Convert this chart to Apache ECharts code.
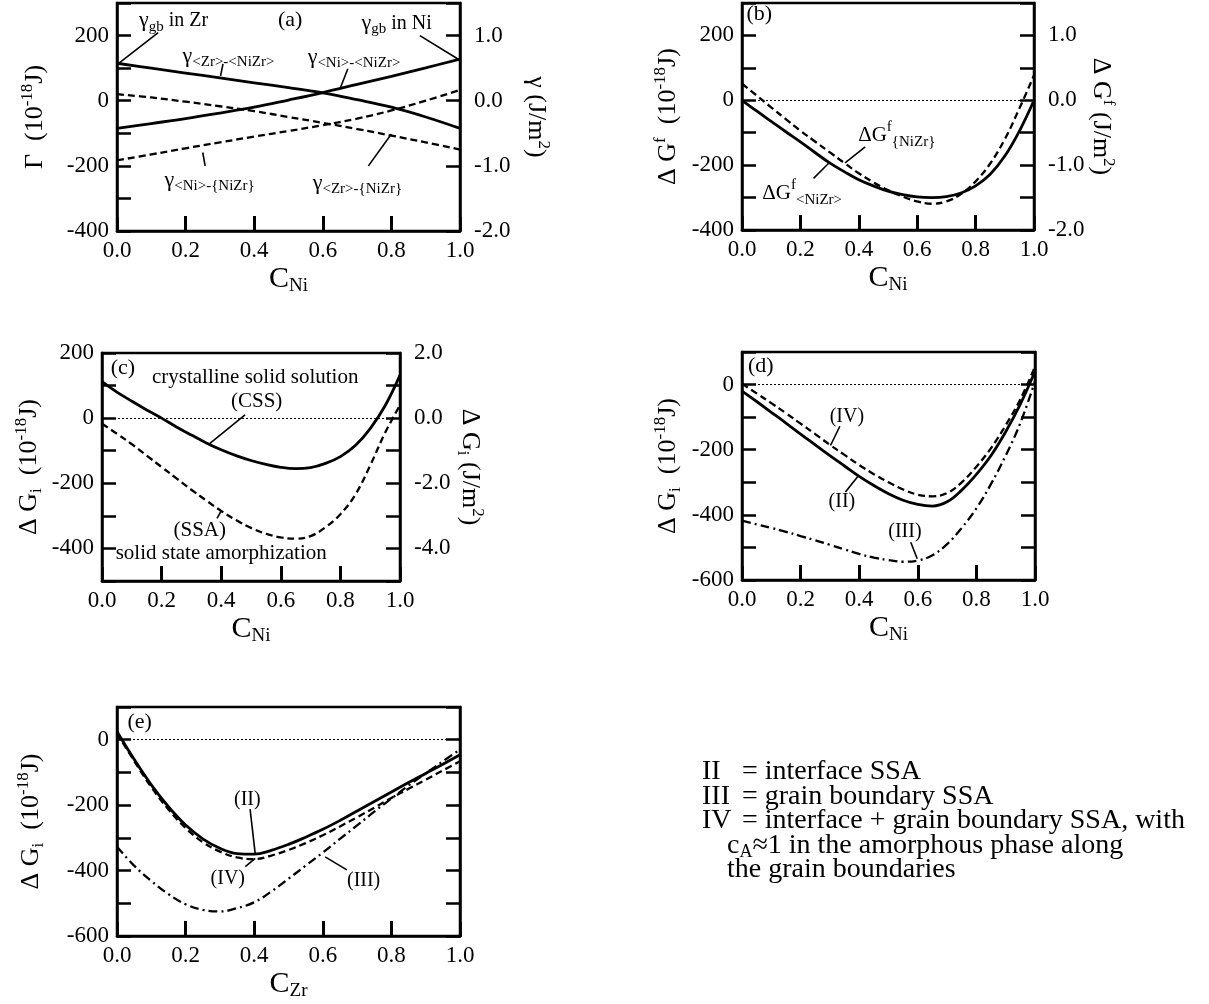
<!DOCTYPE html>
<html>
<head>
<meta charset="utf-8">
<script src="https://cdn.jsdelivr.net/npm/echarts@6/dist/echarts.min.js"></script>
<style>
html,body{margin:0;padding:0;background:#fff;}
#main{width:1209px;height:1004px;}
</style>
</head>
<body>
<div id="main"></div>
<script>
var FONT = '"Liberation Serif","Times New Roman",serif';

// (a) interface energies, Gamma in 1e-18 J
var xA = [0, 0.1, 0.2, 0.3, 0.4, 0.5, 0.6, 0.7, 0.8, 0.9, 1.0];
var gZrNiZr   = [115, 100, 85, 70, 55, 40, 24, 3, -20, -50, -85];
var gNiNiZr   = [-85, -70, -55, -38, -20, 2, 25, 50, 75, 101, 128];
var gZrAmNiZr = [20, 10, -3, -17, -32, -50, -68, -87, -107, -128, -150];
var gNiAmNiZr = [-183, -165, -146, -128, -110, -93, -75, -55, -30, 0, 33];

// composition steps of 0.05 for panels (b)-(e)
var xFine = [0, 0.05, 0.1, 0.15, 0.2, 0.25, 0.3, 0.35, 0.4, 0.45, 0.5,
             0.55, 0.6, 0.65, 0.7, 0.75, 0.8, 0.85, 0.9, 0.95, 1.0];

// (b) formation energies
var gfCryst = [0, -33, -65, -97, -128, -161, -193, -220, -245, -264, -280,
               -291, -298, -300, -297, -286, -264, -228, -172, -95, 0];
var gfAmor  = [51, 15, -22, -58, -94, -127, -160, -193, -225, -253, -277,
               -297, -312, -319, -312, -289, -250, -195, -120, -25, 77];

// (c) CSS vs SSA
var cCSS = [112, 80, 52, 25, 0, -27, -52, -76, -97, -115, -130,
            -142, -151, -155, -152, -139, -118, -84, -32, 38, 132];
var cSSA = [-17, -48, -80, -115, -150, -185, -220, -253, -285, -313, -337,
            -355, -366, -370, -362, -335, -295, -235, -145, -45, 40];

// (d) vs C_Ni
var dII  = [-20, -52, -85, -118, -152, -185, -218, -250, -282, -310, -335,
            -355, -368, -373, -360, -324, -276, -218, -145, -60, 40];
var dIV  = [3, -27, -57, -88, -120, -152, -185, -216, -247, -275, -300,
            -322, -338, -343, -333, -300, -252, -195, -125, -45, 55];
var dIII = [-418, -429, -440, -452, -465, -478, -492, -506, -520, -531, -539,
            -544, -540, -524, -490, -440, -380, -305, -218, -118, 10];

// (e) vs C_Zr
var eII  = [25, -60, -138, -205, -261, -303, -332, -348, -350, -338, -320,
            -298, -274, -247, -218, -189, -160, -131, -103, -75, -46];
var eIV  = [20, -65, -145, -213, -270, -313, -342, -360, -365, -354, -337,
            -316, -292, -265, -237, -208, -178, -150, -122, -94, -66];
var eIII = [-327, -385, -432, -472, -503, -520, -525, -515, -497, -464, -425,
            -385, -345, -303, -262, -220, -180, -140, -103, -66, -30];

// inner x ticks along the bottom edge
var xTicks = [0.2, 0.4, 0.6, 0.8];

function pts(xs, ys) { return xs.map(function (x, i) { return [x, ys[i]]; }); }

var solid = { color: '#000', width: 2.8, type: 'solid' };
var dash = { color: '#000', width: 2.3, type: [7, 4] };
var dashDot = { color: '#000', width: 2.3, type: [9, 4, 2, 4] };

var grids = [
  { left: 117, top: 3, width: 343, height: 228 },
  { left: 742, top: 3, width: 292, height: 227 },
  { left: 102, top: 353, width: 298, height: 228 },
  { left: 742, top: 352, width: 293, height: 228 },
  { left: 117, top: 707, width: 343, height: 229 }
];
grids.forEach(function (g) {
  g.show = true; g.borderColor = '#000'; g.borderWidth = 2.5; g.outerBoundsMode = 'none';
});

var richName = {
  m: { fontSize: 26, fontFamily: FONT, color: '#000', lineHeight: 32 },
  p: { fontSize: 17, fontFamily: FONT, color: '#000', lineHeight: 17, verticalAlign: 'top' },
  s: { fontSize: 17, fontFamily: FONT, color: '#000', lineHeight: 17, verticalAlign: 'bottom' },
  c: { fontSize: 30, fontFamily: FONT, color: '#000', lineHeight: 34 },
  x: { fontSize: 19, fontFamily: FONT, color: '#000', lineHeight: 19, verticalAlign: 'bottom' }
};

function tickStyle() {
  return { show: true, inside: true, length: 14, lineStyle: { color: '#000', width: 2.5 } };
}

function xAx(gi, sub) {
  return {
    type: 'value', gridIndex: gi, position: 'bottom', min: 0, max: 1, interval: 0.2,
    name: '{c|C}{x|' + sub + '}', nameLocation: 'middle', nameGap: 31,
    nameTextStyle: { rich: richName },
    axisLine: { show: true, onZero: false, lineStyle: { color: '#000', width: 2.5 } },
    axisTick: tickStyle(),
    axisLabel: { fontSize: 23, fontFamily: FONT, color: '#000', margin: 8,
      formatter: function (v) { return v.toFixed(1); } },
    splitLine: { show: false }
  };
}

function yLeft(gi, min, max, name, gap) {
  return {
    type: 'value', gridIndex: gi, min: min, max: max, interval: 100, position: 'left',
    name: name, nameLocation: 'middle', nameRotate: 90, nameGap: gap,
    nameTextStyle: { rich: richName },
    axisLine: { show: true, onZero: false, lineStyle: { color: '#000', width: 2.5 } },
    axisTick: tickStyle(),
    axisLabel: { fontSize: 23, fontFamily: FONT, color: '#000', margin: 8,
      formatter: function (v) { return v % 200 === 0 ? String(v) : ''; } },
    splitLine: { show: false }
  };
}

function yRight(gi, min, max, step, labelEvery, name, gap) {
  return {
    type: 'value', gridIndex: gi, min: min, max: max, interval: step, position: 'right',
    name: name || '', nameLocation: 'middle', nameRotate: -90, nameGap: gap || 50,
    nameTextStyle: { rich: richName },
    axisLine: { show: true, onZero: false, lineStyle: { color: '#000', width: 2.5 } },
    axisTick: tickStyle(),
    axisLabel: { show: !!labelEvery, fontSize: 23, fontFamily: FONT, color: '#000', margin: 14,
      formatter: function (v) {
        return Math.abs(v / labelEvery - Math.round(v / labelEvery)) < 1e-9 ? v.toFixed(1) : '';
      } },
    splitLine: { show: false }
  };
}

var nameGi = '{m|Δ G}{s|i}{m|  (10}{p|-18}{m|J)}';

var xAxes = [xAx(0, 'Ni'), xAx(1, 'Ni'), xAx(2, 'Ni'), xAx(3, 'Ni'), xAx(4, 'Zr')];
var yAxes = [
  yLeft(0, -400, 300, '{m|Γ  (10}{p|-18}{m|J)}', 66),
  yRight(0, -2, 1.5, 1, 1, '{m|γ (J/m}{p|2}{m|)}', 60),
  yLeft(1, -400, 300, '{m|Δ G}{p|f}{m|  (10}{p|-18}{m|J)}', 58),
  yRight(1, -2, 1.5, 0.5, 1, '{m|Δ G}{p|f}{m| (J/m}{p|2}{m|)}', 50),
  yLeft(2, -500, 200, nameGi, 57),
  yRight(2, -5, 2, 1, 2, '{m|Δ G}{s|i}{m| (J/m}{p|2}{m|)}', 50),
  yLeft(3, -600, 100, nameGi, 58),
  yRight(3, -600, 100, 100, 0),
  yLeft(4, -600, 100, nameGi, 70),
  yRight(4, -600, 100, 100, 0)
];

// markLine: optional dotted zero line plus short inward ticks on the bottom edge
function panelMarks(yMin, withZero) {
  var data = [];
  if (withZero) data.push({ yAxis: 0, lineStyle: { color: '#000', width: 1, type: [2, 2] } });
  xTicks.forEach(function (v) {
    data.push([
      { coord: [v, yMin], lineStyle: { color: '#000', width: 3, type: 'solid' } },
      { coord: [v, yMin + 46] }
    ]);
  });
  return {
    silent: true, symbol: ['none', 'none'], label: { show: false }, animation: false,
    lineStyle: { color: '#000', width: 3, type: 'solid' },
    data: data
  };
}

function line(xi, yi, data, style, marks) {
  var s = {
    type: 'line', xAxisIndex: xi, yAxisIndex: yi, data: data, showSymbol: false,
    smooth: 0.4, lineStyle: style, silent: true, animation: false, z: 3
  };
  if (marks) s.markLine = marks;
  return s;
}

var series = [
  line(0, 0, pts(xA, gZrNiZr), solid, panelMarks(-400, false)),   // 0
  line(0, 0, pts(xA, gNiNiZr), solid),                              // 1
  line(0, 0, pts(xA, gZrAmNiZr), dash),                             // 2
  line(0, 0, pts(xA, gNiAmNiZr), dash),                             // 3
  line(1, 2, pts(xFine, gfCryst), solid, panelMarks(-400, true)),   // 4
  line(1, 2, pts(xFine, gfAmor), dash),                             // 5
  line(2, 4, pts(xFine, cCSS), solid, panelMarks(-500, true)),      // 6
  line(2, 4, pts(xFine, cSSA), dash),                               // 7
  line(3, 6, pts(xFine, dII), solid, panelMarks(-600, true)),       // 8
  line(3, 6, pts(xFine, dIV), dash),                                // 9
  line(3, 6, pts(xFine, dIII), dashDot),                            // 10
  line(4, 8, pts(xFine, eII), solid, panelMarks(-600, true)),       // 11
  line(4, 8, pts(xFine, eIV), dash),                                // 12
  line(4, 8, pts(xFine, eIII), dashDot)                             // 13
];

var chart = echarts.init(document.getElementById('main'));
chart.setOption({
  backgroundColor: '#fff',
  animation: false,
  grid: grids,
  xAxis: xAxes,
  yAxis: yAxes,
  series: series
});

// annotations: [seriesIndex, x, y, parts]  parts: [text, size, dy]
var notes = [
  [0, 0.505, 248, [['(a)', 22, 0]]],
  [0, 0.165, 246, [['γ', 22, 0], ['gb', 15, 6], [' in Zr', 20, 0]]],
  [0, 0.815, 237, [['γ', 22, 0], ['gb', 15, 6], [' in Ni', 20, 0]]],
  [0, 0.325, 138, [['γ', 22, 0], ['<Zr>-<NiZr>', 15, 6]]],
  [0, 0.691, 135, [['γ', 22, 0], ['<Ni>-<NiZr>', 15, 6]]],
  [0, 0.27, -243, [['γ', 22, 0], ['<Ni>-{NiZr}', 15, 6]]],
  [0, 0.701, -252, [['γ', 22, 0], ['<Zr>-{NiZr}', 15, 6]]],
  [4, 0.059, 265, [['(b)', 22, 0]]],
  [4, 0.53, -108, [['ΔG', 21, 0], ['f', 15, -8], ['{NiZr}', 15, 7]]],
  [4, 0.206, -286, [['ΔG', 21, 0], ['f', 15, -8], ['<NiZr>', 15, 7]]],
  [6, 0.07, 154, [['(c)', 22, 0]]],
  [6, 0.514, 125, [['crystalline solid solution', 21, 0]]],
  [6, 0.519, 51, [['(CSS)', 21, 0]]],
  [6, 0.328, -344, [['(SSA)', 21, 0]]],
  [6, 0.40, -415, [['solid state amorphization', 21, 0]]],
  [8, 0.064, 55, [['(d)', 22, 0]]],
  [8, 0.358, -99, [['(IV)', 20, 0]]],
  [8, 0.341, -360, [['(II)', 20, 0]]],
  [8, 0.556, -453, [['(III)', 20, 0]]],
  [11, 0.066, 54, [['(e)', 22, 0]]],
  [11, 0.38, -184, [['(II)', 20, 0]]],
  [11, 0.323, -426, [['(IV)', 20, 0]]],
  [11, 0.719, -432, [['(III)', 20, 0]]]
];

// leader lines: [seriesIndex, x1, y1, x2, y2]
var leaders = [
  [0, 0.12, 209, 0.004, 114],
  [0, 0.883, 200, 0.994, 128],
  [0, 0.309, 113, 0.302, 76],
  [0, 0.673, 98, 0.65, 36],
  [0, 0.257, -200, 0.25, -159],
  [0, 0.733, -200, 0.80, -102],
  [4, 0.422, -144, 0.353, -193],
  [4, 0.245, -241, 0.296, -195],
  [6, 0.48, 10, 0.357, -81],
  [6, 0.386, -308, 0.399, -286],
  [8, 0.334, -128, 0.302, -187],
  [8, 0.353, -330, 0.398, -279],
  [8, 0.576, -484, 0.598, -535],
  [11, 0.388, -212, 0.403, -349],
  [11, 0.374, -388, 0.403, -363],
  [11, 0.67, -398, 0.607, -358]
];

var ctx = document.createElement('canvas').getContext('2d');
function measure(t, size) { ctx.font = size + 'px ' + FONT; return ctx.measureText(t).width; }

function label(x0, cy, parts, centered) {
  var total = 0;
  parts.forEach(function (p) { total += measure(p[0], p[1]); });
  var x = centered ? x0 - total / 2 : x0;
  var out = [];
  parts.forEach(function (p) {
    out.push({
      type: 'text', x: x, y: cy + (p[2] || 0), silent: true, z: 10,
      style: { text: p[0], fontSize: p[1], fontFamily: FONT, fill: '#000', align: 'left', verticalAlign: 'middle' }
    });
    x += measure(p[0], p[1]);
  });
  return out;
}

var graphic = [];
notes.forEach(function (n) {
  var p = chart.convertToPixel({ seriesIndex: n[0] }, [n[1], n[2]]);
  graphic = graphic.concat(label(p[0], p[1], n[3], true));
});
leaders.forEach(function (l) {
  var a = chart.convertToPixel({ seriesIndex: l[0] }, [l[1], l[2]]);
  var b = chart.convertToPixel({ seriesIndex: l[0] }, [l[3], l[4]]);
  graphic.push({
    type: 'line', silent: true, z: 10,
    shape: { x1: a[0], y1: a[1], x2: b[0], y2: b[1] },
    style: { stroke: '#000', lineWidth: 1.6 }
  });
});

// key text at bottom right
var keyLines = [
  [702, 772, [['II', 28, 0]]],
  [742, 772, [['= interface SSA', 28, 0]]],
  [702, 796.5, [['III', 28, 0]]],
  [742, 796.5, [['= grain boundary SSA', 28, 0]]],
  [702, 821, [['IV', 28, 0]]],
  [742, 821, [['= interface + grain boundary SSA, with', 28, 0]]],
  [727, 845.5, [['c', 28, 0], ['A', 18, 7], ['≈1 in the amorphous phase along', 28, 0]]],
  [727, 870, [['the grain boundaries', 28, 0]]]
];
keyLines.forEach(function (k) { graphic = graphic.concat(label(k[0], k[1], k[2], false)); });

chart.setOption({ graphic: graphic });
</script>
</body>
</html>
